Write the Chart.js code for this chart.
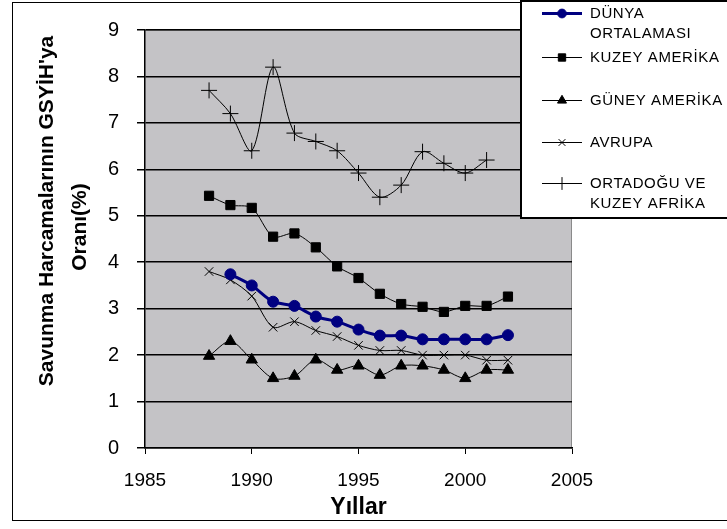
<!DOCTYPE html>
<html>
<head>
<meta charset="utf-8">
<script src="https://cdn.jsdelivr.net/npm/chart.js@4/dist/chart.umd.min.js"></script>
<style>
  html, body { margin: 0; padding: 0; background: #fff; }
  #wrap { width: 727px; height: 529px; }
</style>
</head>
<body>
<div id="wrap"><canvas id="chart" width="727" height="529"></canvas></div>
<script>
// Veriler
const years = [1988, 1989, 1990, 1991, 1992, 1993, 1994, 1995, 1996, 1997, 1998, 1999, 2000, 2001, 2002];
const dunya = [null, 3.74, 3.5, 3.15, 3.06, 2.83, 2.72, 2.55, 2.42, 2.42, 2.34, 2.34, 2.34, 2.34, 2.43];
const kuzeyAmerika = [5.43, 5.23, 5.17, 4.55, 4.62, 4.32, 3.91, 3.66, 3.32, 3.1, 3.04, 2.93, 3.06, 3.06, 3.26];
const guneyAmerika = [1.98, 2.3, 1.9, 1.5, 1.55, 1.9, 1.68, 1.77, 1.57, 1.77, 1.77, 1.68, 1.5, 1.68, 1.68];
const avrupa = [3.8, 3.62, 3.27, 2.6, 2.72, 2.53, 2.4, 2.21, 2.1, 2.1, 2.0, 2.0, 2.0, 1.89, 1.89];
const ortadogu = [7.7, 7.2, 6.4, 8.2, 6.78, 6.6, 6.4, 5.92, 5.4, 5.66, 6.38, 6.13, 5.92, 6.2, null];

const seriesNames = ['DÜNYA ORTALAMASI', 'KUZEY AMERİKA', 'GÜNEY AMERİKA', 'AVRUPA', 'ORTADOĞU VE KUZEY AFRİKA'];
const legendLines = [['DÜNYA', 'ORTALAMASI'], ['KUZEY AMERİKA'], ['GÜNEY AMERİKA'], ['AVRUPA'], ['ORTADOĞU VE', 'KUZEY AFRİKA']];
const yTitle = ["Savunma Harcamalarının GSYİH'ya", 'Oranı(%)'];
const yTicks = [0, 1, 2, 3, 4, 5, 6, 7, 8, 9];
const xTicks = [1985, 1990, 1995, 2000, 2005];

const FONT = "Arial, 'Liberation Sans', sans-serif";

// yıl + değer -> nokta
function toPoints(values) {
  return years.map((y, i) => ({ x: y, y: values[i] })).filter(p => p.y !== null);
}

// Gri arka plan + çerçeve
const bgPlugin = {
  id: 'bg',
  beforeDraw(chart) {
    const { ctx, chartArea: a } = chart;
    ctx.save();
    ctx.fillStyle = '#fff';
    ctx.fillRect(0, 0, chart.width, chart.height);
    ctx.strokeStyle = '#000';
    ctx.lineWidth = 1;
    ctx.strokeRect(12.5, 2.5, 720, 518);
    ctx.fillStyle = '#c4c3c6';
    ctx.fillRect(a.left, a.top, a.right - a.left, a.bottom - a.top);
    ctx.strokeStyle = '#8a8a8a';
    ctx.beginPath();
    ctx.moveTo(a.left, a.top + 0.5);
    ctx.lineTo(a.right - 0.5, a.top + 0.5);
    ctx.lineTo(a.right - 0.5, a.bottom);
    ctx.stroke();

    // Y ekseni başlığı (Excel'deki gibi biraz yukarıda)
    ctx.fillStyle = '#000';
    ctx.font = 'bold 21px ' + FONT;
    ctx.textAlign = 'center';
    ctx.textBaseline = 'middle';
    const pos = [[47, 211], [80, 227]];
    yTitle.forEach((t, i) => {
      ctx.save();
      ctx.translate(pos[i][0], pos[i][1]);
      ctx.rotate(-Math.PI / 2);
      ctx.fillText(t, 0, 0);
      ctx.restore();
    });
    ctx.restore();
  }
};

// Sağ üstteki lejant kutusu (çizim alanının üstüne biner)
const legendBox = {
  id: 'legendBox',
  afterDraw(chart) {
    const ctx = chart.ctx;
    const rowsY = [13, 57, 100, 142, 183];
    ctx.save();
    ctx.fillStyle = '#fff';
    ctx.fillRect(520, 0, 210, 218);
    ctx.strokeStyle = '#000';
    ctx.lineWidth = 2;
    ctx.strokeRect(521, 1, 220, 217);
    chart.data.datasets.forEach((ds, i) => {
      const y = rowsY[i] + 0.5;
      ctx.strokeStyle = ds.borderColor;
      ctx.fillStyle = ds.borderColor;
      ctx.lineWidth = ds.borderWidth;
      ctx.beginPath();
      ctx.moveTo(542, y);
      ctx.lineTo(582, y);
      ctx.stroke();
      ctx.lineWidth = 1;
      Chart.helpers.drawPoint(ctx, {
        pointStyle: ds.pointStyle,
        radius: ds.pointRadius * 0.8,
        borderWidth: 1
      }, 562, y);
      ctx.fillStyle = '#000';
      ctx.font = '15px ' + FONT;
      ctx.letterSpacing = '0.6px';
      ctx.textBaseline = 'middle';
      legendLines[i].forEach((t, k) => ctx.fillText(t, 590, y + k * 20));
    });
    ctx.restore();
  }
};

const common = { borderWidth: 1, tension: 0.3, borderColor: '#000', backgroundColor: '#000',
  pointBorderColor: '#000', pointBackgroundColor: '#000', pointBorderWidth: 1 };

new Chart(document.getElementById('chart'), {
  type: 'line',
  data: {
    datasets: [
      { ...common, label: seriesNames[0], data: toPoints(dunya), borderColor: '#000080', backgroundColor: '#000080',
        pointBorderColor: '#000080', pointBackgroundColor: '#000080', borderWidth: 3, pointStyle: 'circle', pointRadius: 5.5 },
      { ...common, label: seriesNames[1], data: toPoints(kuzeyAmerika), pointStyle: 'rect', pointRadius: 6.5 },
      { ...common, label: seriesNames[2], data: toPoints(guneyAmerika), pointStyle: 'triangle', pointRadius: 6.5 },
      { ...common, label: seriesNames[3], data: toPoints(avrupa), pointStyle: 'crossRot', pointRadius: 6 },
      { ...common, label: seriesNames[4], data: toPoints(ortadogu), pointStyle: 'cross', pointRadius: 8 }
    ]
  },
  options: {
    responsive: false,
    animation: false,
    layout: { padding: { left: 30, right: 155, top: 21, bottom: 0 } },
    plugins: { legend: { display: false }, tooltip: { enabled: false } },
    scales: {
      x: {
        type: 'linear',
        min: 1985, max: 2005,
        afterBuildTicks: s => { s.ticks = xTicks.map(v => ({ value: v })); },
        afterFit: s => { s.height = 81; },
        grid: { drawOnChartArea: false, color: '#000', tickLength: 6 },
        border: { color: '#000', width: 1.5 },
        ticks: { color: '#000', font: { family: FONT, size: 19 }, padding: 15, maxRotation: 0,
          callback: v => String(v) },
        title: { display: true, text: 'Yıllar', color: '#000', font: { family: FONT, size: 23, weight: 'bold' }, padding: { top: 0, bottom: 8 } }
      },
      y: {
        min: 0, max: 9,
        afterBuildTicks: s => { s.ticks = yTicks.map(v => ({ value: v })); },
        afterFit: s => { s.width = 115; },
        grid: { color: '#000', lineWidth: 1.5, tickLength: 8 },
        border: { color: '#000', width: 1.5 },
        ticks: { color: '#000', font: { family: FONT, size: 20 }, padding: 18 },
        title: { display: false }
      }
    }
  },
  plugins: [bgPlugin, legendBox]
});
</script>
</body>
</html>
